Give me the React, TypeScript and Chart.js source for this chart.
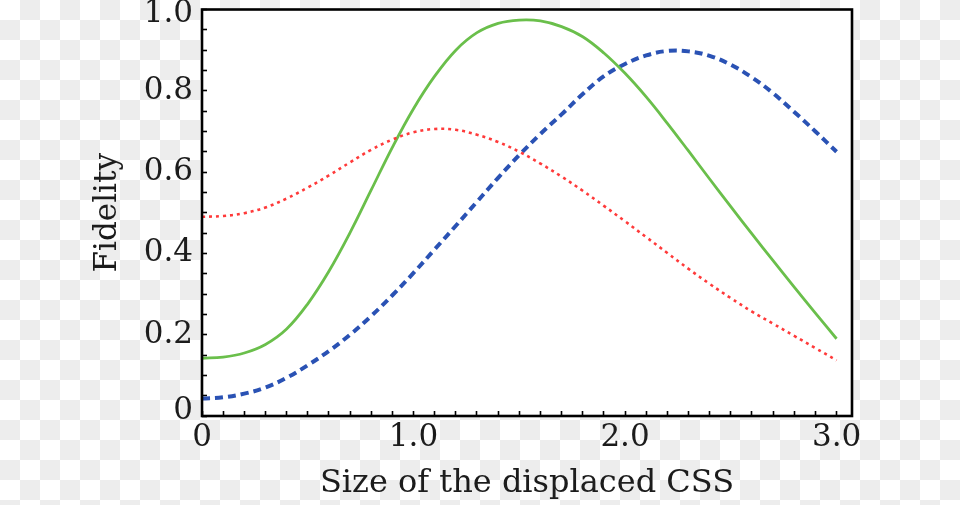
import React, { useEffect, useRef } from "react";
import { Chart, registerables } from "chart.js";

Chart.register(...registerables);

// ---- data ----
const sizeValues = [0, 0.1, 0.2, 0.3, 0.4, 0.5, 0.6, 0.7, 0.8, 0.9, 1.0, 1.1, 1.2, 1.3, 1.4, 1.5, 1.6, 1.7, 1.8, 1.9, 2.0, 2.1, 2.2, 2.3, 2.4, 2.5, 2.6, 2.7, 2.8, 2.9, 3.0];

const greenFidelity = [0.142, 0.145, 0.155, 0.176, 0.214, 0.276, 0.356, 0.451, 0.556, 0.661, 0.756, 0.836, 0.9, 0.943, 0.966, 0.974, 0.972, 0.958, 0.933, 0.893, 0.843, 0.785, 0.72, 0.652, 0.583, 0.515, 0.448, 0.382, 0.317, 0.253, 0.19];

const redFidelity = [0.49, 0.492, 0.499, 0.513, 0.535, 0.562, 0.592, 0.624, 0.655, 0.68, 0.698, 0.706, 0.704, 0.692, 0.674, 0.65, 0.621, 0.589, 0.554, 0.517, 0.479, 0.44, 0.401, 0.362, 0.325, 0.29, 0.257, 0.227, 0.197, 0.167, 0.137];

const blueFidelity = [0.043, 0.046, 0.055, 0.07, 0.094, 0.125, 0.16, 0.2, 0.246, 0.297, 0.352, 0.41, 0.468, 0.527, 0.586, 0.642, 0.694, 0.742, 0.792, 0.836, 0.866, 0.887, 0.898, 0.897, 0.886, 0.864, 0.833, 0.794, 0.748, 0.7, 0.65];

const xTickValues = [0, 1, 2, 3];
const xTickLabels = ["0", "1.0", "2.0", "3.0"];
const yTickValues = [0, 0.2, 0.4, 0.6, 0.8, 1.0];
const yTickLabels = ["0", "0.2", "0.4", "0.6", "0.8", "1.0"];
const xMinorStep = 0.1;
const yMinorStep = 0.05;
const xTitle = "Size of the displaced CSS";
const yTitle = "Fidelity";

const FONT = "'DejaVu Serif', serif";
const TEXT = "#1c1c1c";

const toPoints = (ys: number[]) => sizeValues.map((x, i) => ({ x, y: ys[i] }));

const frameFill = {
  id: "frameFill",
  beforeDraw(chart: any) {
    const { ctx, chartArea: a } = chart;
    ctx.save();
    ctx.fillStyle = "#ffffff";
    ctx.fillRect(a.left, a.top, a.right - a.left, a.bottom - a.top);
    ctx.restore();
  },
  afterDraw(chart: any) {
    const { ctx, chartArea: a } = chart;
    ctx.save();
    ctx.strokeStyle = "#000000";
    ctx.lineWidth = 2.6;
    ctx.strokeRect(a.left, a.top, a.right - a.left, a.bottom - a.top);
    ctx.restore();
  },
};

const findIdx = (v: number, vals: number[]) => vals.findIndex((t) => Math.abs(t - v) < 1e-6);

export default function App() {
  const ref = useRef<HTMLCanvasElement | null>(null);

  useEffect(() => {
    if (!ref.current) return;
    const xMax = 3.073;
    const yMaxVal = yTickValues[yTickValues.length - 1];
    const yMinVal = yTickValues[0];
    const chart = new Chart(ref.current, {
      type: "line",
      data: {
        datasets: [
          {
            label: "red",
            data: toPoints(redFidelity),
            borderColor: "#ff3a3a",
            borderWidth: 2.6,
            borderDash: [3, 4],
            pointRadius: 0,
            tension: 0.4,
            fill: false,
          },
          {
            label: "green",
            data: toPoints(greenFidelity),
            borderColor: "#6abf4b",
            borderWidth: 2.8,
            pointRadius: 0,
            tension: 0.4,
            fill: false,
          },
          {
            label: "blue",
            data: toPoints(blueFidelity),
            borderColor: "#2a52b4",
            borderWidth: 4,
            borderDash: [8, 5],
            pointRadius: 0,
            tension: 0.4,
            fill: false,
          },
        ],
      },
      options: {
        animation: false,
        responsive: false,
        devicePixelRatio: 1,
        layout: { padding: { left: 0, right: 108, top: 9.5, bottom: 0 } },
        plugins: {
          legend: { display: false },
          tooltip: { enabled: false },
        },
        scales: {
          x: {
            type: "linear",
            min: 0,
            max: xMax,
            afterBuildTicks: (scale: any) => {
              const n = Math.round(3 / xMinorStep);
              scale.ticks = Array.from({ length: n + 1 }, (_, i) => ({ value: +(i * xMinorStep).toFixed(2) }));
            },
            afterFit: (scale: any) => {
              scale.height = 89;
              scale.paddingLeft = 0;
              scale.paddingRight = 0;
            },
            grid: {
              drawOnChartArea: false,
              drawTicks: true,
              tickLength: -5,
              tickWidth: 1.6,
              color: "#000000",
            },
            border: { display: false },
            ticks: {
              autoSkip: false,
              maxRotation: 0,
              padding: 8.5,
              color: TEXT,
              font: { family: FONT, size: 31 },
              callback: (v: any) => {
                const i = findIdx(Number(v), xTickValues);
                return i >= 0 ? xTickLabels[i] : "";
              },
            },
            title: {
              display: true,
              text: xTitle,
              color: TEXT,
              font: { family: FONT, size: 32 },
              padding: { top: 0, bottom: 2.5 },
            },
          },
          y: {
            type: "linear",
            min: 0,
            max: 1,
            afterBuildTicks: (scale: any) => {
              const n = Math.round(1 / yMinorStep);
              scale.ticks = Array.from({ length: n + 1 }, (_, i) => ({ value: +(i * yMinorStep).toFixed(3) }));
            },
            afterFit: (scale: any) => {
              scale.width = 202;
              scale.paddingTop = 0;
              scale.paddingBottom = 0;
            },
            grid: {
              drawOnChartArea: false,
              drawTicks: true,
              tickLength: -5,
              tickWidth: 1.6,
              color: "#000000",
            },
            border: { display: false },
            ticks: {
              autoSkip: false,
              padding: 14,
              color: TEXT,
              // edge labels are nudged inward (as in the reference) via a two-line label with a short line height
              font: (ctx: any) => {
                const v = ctx.tick ? ctx.tick.value : NaN;
                if (Math.abs(v - yMaxVal) < 1e-6) return { family: FONT, size: 31, lineHeight: "8px" };
                if (Math.abs(v - yMinVal) < 1e-6) return { family: FONT, size: 31, lineHeight: "10px" };
                return { family: FONT, size: 31 };
              },
              callback: (v: any) => {
                const n = Number(v);
                const i = findIdx(n, yTickValues);
                if (i < 0) return "";
                if (i === yTickValues.length - 1) return ["", yTickLabels[i]];
                if (i === 0) return [yTickLabels[i], ""];
                return yTickLabels[i];
              },
            },
            title: {
              display: true,
              text: yTitle,
              color: TEXT,
              font: { family: FONT, size: 31 },
              padding: { top: 89, bottom: 0 },
            },
          },
        },
      },
      plugins: [frameFill],
    });
    return () => chart.destroy();
  }, []);

  return (
    <div
      style={{
        position: "fixed",
        left: 0,
        top: 0,
        width: 960,
        height: 505,
        background: "repeating-conic-gradient(#ededed 0 25%, #ffffff 0 50%) 0 0 / 40px 40px",
      }}
    >
      <canvas ref={ref} width={960} height={505} style={{ display: "block", width: 960, height: 505 }} />
    </div>
  );
}
